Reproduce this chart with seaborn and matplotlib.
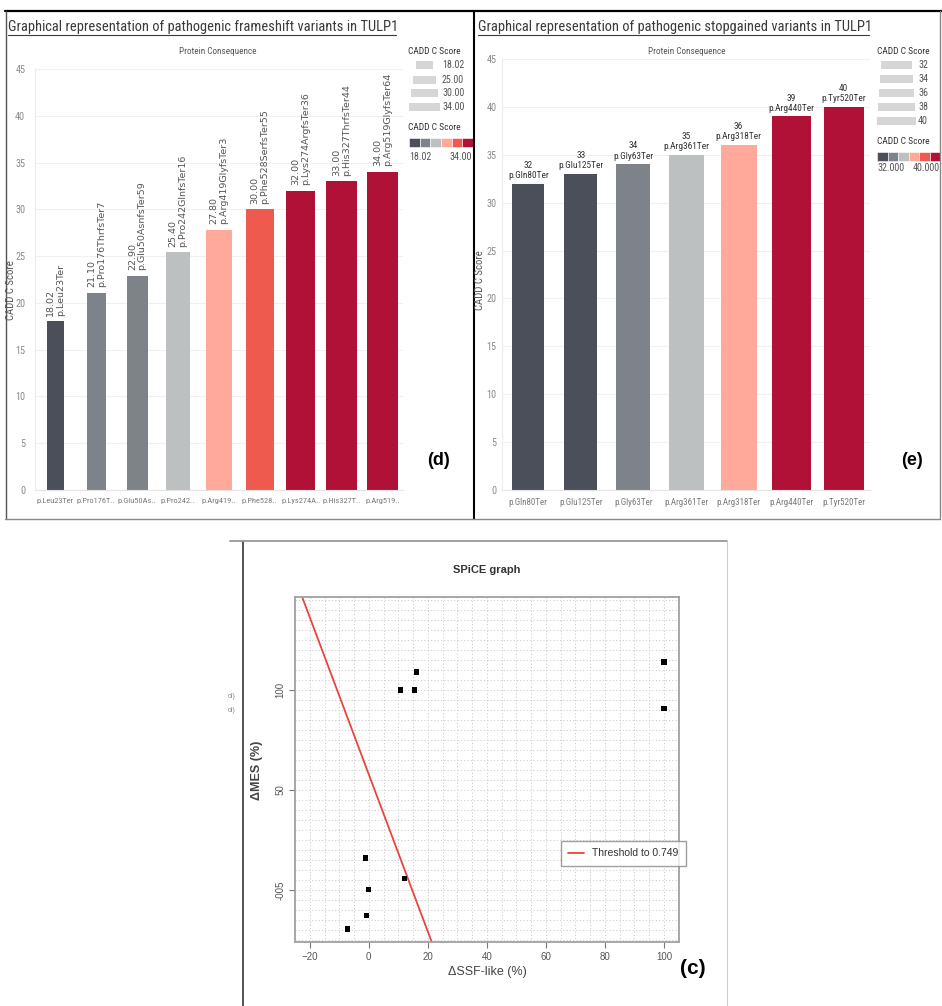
import numpy as np
import pandas as pd
import matplotlib
matplotlib.use("Agg")
import matplotlib.pyplot as plt
from matplotlib.lines import Line2D
from matplotlib.patches import Rectangle
from matplotlib import font_manager as fm
import seaborn as sns

# ---- data ----
fs_variants = ['p.Leu23Ter', 'p.Pro176ThrfsTer7', 'p.Glu50AsnfsTer59', 'p.Pro242GlnfsTer16',
               'p.Arg419GlyfsTer3', 'p.Phe528SerfsTer55', 'p.Lys274ArgfsTer36',
               'p.His327ThrfsTer44', 'p.Arg519GlyfsTer64']
fs_ticklabels = ['p.Leu23Ter', 'p.Pro176T..', 'p.Glu50As..', 'p.Pro242..', 'p.Arg419..',
                 'p.Phe528..', 'p.Lys274A..', 'p.His327T..', 'p.Arg519..']
fs_cadd = [18.02, 21.10, 22.90, 25.40, 27.80, 30.00, 32.00, 33.00, 34.00]
fs_size_legend = [18.02, 25.00, 30.00, 34.00]

sg_variants = ['p.Gln80Ter', 'p.Glu125Ter', 'p.Gly63Ter', 'p.Arg361Ter',
               'p.Arg318Ter', 'p.Arg440Ter', 'p.Tyr520Ter']
sg_cadd = [32, 33, 34, 35, 36, 39, 40]
sg_size_legend = [32, 34, 36, 38, 40]

spice_ssf = [10.8, 15.4, 16.2, 100, 100, -1.2, 12.0, 0.0, -0.9, -7.2]
spice_mes = [100, 100, 109, 114, 90.6, 16, 5.8, 0.3, -12.8, -19.5]
threshold_intercept = 57.8
threshold_slope = -3.93
spice_yticks = [0, 50, 100]
spice_yticklabels = ['-005', '50', '100']

# ---- styles ----
fs_colors = ['#4a4f5a', '#7e8389', '#7e8389', '#bdc0c1', '#fea999', '#ee5a4e',
             '#b01237', '#b01237', '#b01237']
sg_colors = ['#4a4f5a', '#4a4f5a', '#7e8389', '#bdc0c1', '#fea999', '#b01237', '#b01237']
strip_colors = ['#4a4f5a', '#7e8389', '#bdc0c1', '#fea999', '#ee5a4e', '#b01237']

sns.set_theme(style="white")


def pick_narrow():
    # Tableau uses a mildly condensed face; prefer semi-condensed ones
    entries = fm.fontManager.ttflist
    prefs = ['Noto Sans SemiCondensed', 'Liberation Sans Narrow', 'Open Sans SemiCondensed',
             'DejaVu Sans Condensed', 'Roboto Condensed', 'Noto Sans Condensed',
             'Open Sans Condensed']
    names = {f.name for f in entries}
    for p in prefs:
        if p in names:
            return p, 'normal'
    regular = [f for f in entries
               if f.weight in (400, 'normal', 'regular') and f.style == 'normal']
    for key in ['semicondensed', 'narrow', 'condensed']:
        for f in regular:
            fn = f.fname.lower()
            if key in fn and 'extra' not in fn and 'ultra' not in fn:
                return f.name, f.stretch
    return 'Roboto', 'normal'


NARROW, NARROW_STRETCH = pick_narrow()
ARIAL = 'Liberation Sans'
plt.rcParams['font.family'] = [NARROW, 'DejaVu Sans']
plt.rcParams['font.stretch'] = NARROW_STRETCH

W, H = 942, 1006
fig = plt.figure(figsize=(W / 100, H / 100), dpi=100)
fig.patch.set_facecolor('white')
fig.canvas.draw()
rend = fig.canvas.get_renderer()


def fit(s, target_px, **kw):
    t = fig.text(0, 0, s, fontsize=10, **kw)
    w = t.get_window_extent(rend).width
    t.remove()
    return 10 * target_px / w


tick_fs = fit('p.Leu23Ter', 37)
sg_tick_fs = fit('p.Arg440Ter', 44)
ytick_fs = fit('45', 10)
lab_fs = fit('p.Arg440Ter', 46)
leg_title_fs = fit('CADD C Score', 52)
leg_lab_fs = fit('18.02', 22)
cons_fs = fit('Protein Consequence', 76)
ylab_fs = fit('CADD C Score', 60)


def px_axes(x0, y0, x1, y1):
    return fig.add_axes([x0 / W, 1 - y1 / H, (x1 - x0) / W, (y1 - y0) / H])


def ftext(x, y, s, **kw):
    return fig.text(x / W, 1 - y / H, s, **kw)


def fline(xs, ys, **kw):
    fig.add_artist(Line2D([x / W for x in xs], [1 - y / H for y in ys], **kw))


def frect(x, y, w, h, **kw):
    fig.add_artist(Rectangle((x / W, 1 - (y + h) / H), w / W, h / H,
                             transform=fig.transFigure, **kw))


def cadd_bars(ax, names, scores, colors, ticklabels, px_per_score, slot_px, xfs):
    df = pd.DataFrame({'variant': names, 'cadd': scores})
    sns.barplot(data=df, x='variant', y='cadd', hue='variant', palette=colors,
                saturation=1, legend=False, ax=ax)
    # Tableau size encoding: bar width grows with the score
    for bar, s in zip(ax.patches, scores):
        cx = bar.get_x() + bar.get_width() / 2
        w = s * px_per_score / slot_px
        bar.set_x(cx - w / 2)
        bar.set_width(w)
        bar.set_edgecolor('none')
    ax.set_xlim(-0.5, len(names) - 0.5)
    ax.set_ylim(0, 45)
    ax.set_yticks(range(0, 46, 5))
    ax.set_xticks(range(len(names)))
    ax.set_xticklabels(ticklabels)
    ax.tick_params(axis='x', length=0, pad=6, labelsize=xfs, labelcolor='#7a7a7a')
    ax.yaxis.grid(True, color='#f0f0f0', lw=0.8)
    ax.set_axisbelow(True)
    ax.set_xlabel('')
    ax.set_ylabel('')
    for sp in ['top', 'right']:
        ax.spines[sp].set_visible(False)
    ax.spines['left'].set_color('#ececec')
    ax.spines['bottom'].set_color('#e4e4e4')
    ax.spines['left'].set_linewidth(0.8)
    ax.spines['bottom'].set_linewidth(0.8)


# ---- (d) frameshift panel ----
ax1 = px_axes(35, 69, 403, 490)
cadd_bars(ax1, fs_variants, fs_cadd, fs_colors, fs_ticklabels, 0.92, 368 / 9, tick_fs)
ax1.tick_params(axis='y', length=0, pad=7, labelsize=ytick_fs, labelcolor='#8a8a8a')
for i, (n, s) in enumerate(zip(fs_variants, fs_cadd)):
    ax1.text(i, s + 0.6, f'{s:.2f}\n{n}', rotation=90, ha='center', va='bottom',
             multialignment='left', fontsize=6.8, color='#555555',
             family='DejaVu Sans', stretch='normal', linespacing=1.1)

# ---- (e) stopgained panel ----
ax2 = px_axes(502, 59, 870, 490)
cadd_bars(ax2, sg_variants, sg_cadd, sg_colors, sg_variants, 1.0, 368 / 7, sg_tick_fs)
ax2.tick_params(axis='y', length=0, pad=4, labelsize=ytick_fs, labelcolor='#8a8a8a')
for i, (n, s) in enumerate(zip(sg_variants, sg_cadd)):
    ax2.text(i, s + 0.4, f'{s:g}\n{n}', ha='center', va='bottom', fontsize=lab_fs,
             color='#333333', linespacing=1.15)

# titles (underlined)
titles = [(8, 27, 388, 'Graphical representation of pathogenic frameshift variants in TULP1'),
          (478, 27, 391, 'Graphical representation of pathogenic stopgained variants in TULP1')]
for x, y, target, s in titles:
    t = ftext(x, y, s, fontsize=11, color='#3a3a3a', ha='left', va='center')
    wpx = t.get_window_extent(rend).width
    t.set_fontsize(11 * target / wpx)
    fline([x, x + target], [y + 8, y + 8], color='#3a3a3a', lw=0.8)

ftext(218, 51, 'Protein Consequence', fontsize=cons_fs, color='#555555', ha='center', va='center')
ftext(687, 51, 'Protein Consequence', fontsize=cons_fs, color='#555555', ha='center', va='center')
ftext(11, 290, 'CADD C Score', fontsize=ylab_fs, color='#555555', rotation=90, ha='center', va='center')
ftext(480, 280, 'CADD C Score', fontsize=ylab_fs, color='#555555', rotation=90, ha='center', va='center')

# size legends
ftext(408, 52, 'CADD C Score', fontsize=leg_title_fs, color='#333333', ha='left', va='center')
for yc, v in zip([65, 80, 93, 107], fs_size_legend):
    w = v * 0.91
    frect(424.5 - w / 2, yc - 4, w, 8, facecolor='#d6d6d6', edgecolor='none')
    ftext(442, yc, f'{v:.2f}', fontsize=leg_lab_fs, color='#555555', ha='left', va='center')
ftext(877, 52, 'CADD C Score', fontsize=leg_title_fs, color='#333333', ha='left', va='center')
for yc, v in zip([65, 79, 93, 107, 121], sg_size_legend):
    w = v * 0.98
    frect(896.5 - w / 2, yc - 4, w, 8, facecolor='#d6d6d6', edgecolor='none')
    ftext(918, yc, f'{v:g}', fontsize=leg_lab_fs, color='#555555', ha='left', va='center')

# colour legends
ftext(408, 128, 'CADD C Score', fontsize=leg_title_fs, color='#333333', ha='left', va='center')
seg = 64 / len(strip_colors)
for k, c in enumerate(strip_colors):
    frect(409 + k * seg, 138, seg, 9, facecolor=c, edgecolor='white', lw=0.4)
ftext(409, 157, f'{min(fs_cadd):.2f}', fontsize=leg_lab_fs, color='#555555', ha='left', va='center')
ftext(472, 157, f'{max(fs_cadd):.2f}', fontsize=leg_lab_fs, color='#555555', ha='right', va='center')

ftext(877, 141, 'CADD C Score', fontsize=leg_title_fs, color='#333333', ha='left', va='center')
seg = 63 / len(strip_colors)
for k, c in enumerate(strip_colors):
    frect(877 + k * seg, 152, seg, 9, facecolor=c, edgecolor='white', lw=0.4)
ftext(877, 168, f'{min(sg_cadd):.3f}', fontsize=leg_lab_fs, color='#555555', ha='left', va='center')
ftext(940, 168, f'{max(sg_cadd):.3f}', fontsize=leg_lab_fs, color='#555555', ha='right', va='center')

ftext(438, 460, '(d)', fontsize=13, fontweight='bold', color='black', ha='center', va='center', family=ARIAL)
ftext(912, 460, '(e)', fontsize=13, fontweight='bold', color='black', ha='center', va='center', family=ARIAL)

# panel frames
fline([5, 942], [11, 11], color='black', lw=1.6)
fline([6, 6], [11, 519], color='#555555', lw=1.0)
fline([474, 474], [11, 519], color='black', lw=1.5)
fline([940, 940], [11, 519], color='#888888', lw=1.0)
fline([5, 940], [519, 519], color='#888888', lw=1.0)

# ---- (c) SPiCE panel ----
ax3 = px_axes(295, 597, 679, 942)
ax3.set_xlim(-24.7, 105.1)
ax3.set_ylim(-26, 146.5)
ax3.set_xticks(np.arange(-25, 106, 5), minor=True)
ax3.set_yticks(np.arange(-25, 146, 5), minor=True)
ax3.grid(which='both', ls=(0, (1.2, 2.2)), color='#cdcdcd', lw=0.7)
ax3.set_axisbelow(True)
ax3.axline((0, threshold_intercept), slope=threshold_slope, color='#e8453c', lw=1.3,
           label='Threshold to 0.749', zorder=2)
sns.scatterplot(x=spice_ssf, y=spice_mes, marker='s', s=14, color='black',
                edgecolor='none', ax=ax3, zorder=3)
ax3.set_xticks(range(-20, 101, 20))
ax3.set_yticks(spice_yticks)
ax3.set_yticklabels(spice_yticklabels, rotation=90, va='center')
ax3.tick_params(which='major', length=4, width=0.8, color='#777777', labelsize=7,
                labelcolor='#555555', pad=3, direction='out', left=True, bottom=True)
ax3.tick_params(which='minor', length=0)
for lab in ax3.get_xticklabels() + ax3.get_yticklabels():
    lab.set_family(ARIAL)
    lab.set_stretch('normal')
for sp in ax3.spines.values():
    sp.set_color('#a0a0a0')
    sp.set_linewidth(1.3)
leg = ax3.legend(loc='center left', bbox_to_anchor=(561 / W, 1 - 853.5 / H),
                 bbox_transform=fig.transFigure, frameon=True, fancybox=False,
                 edgecolor='#888888', handlelength=1.5, handletextpad=0.8,
                 borderpad=0.7, borderaxespad=0,
                 prop={'family': ARIAL, 'size': 7.5, 'stretch': 'normal'})
leg.get_frame().set_linewidth(1.0)
for t in leg.get_texts():
    t.set_color('#333333')

ftext(487, 570, 'SPiCE graph', fontsize=8, fontweight='bold', color='#333333',
      ha='center', va='center', family=ARIAL, stretch='normal')
ftext(487, 972, '\u0394SSF-like (%)', fontsize=9, color='#444444', ha='center',
      va='center', family=ARIAL, stretch='normal')
ftext(257, 770, '\u0394MES (%)', fontsize=9, fontweight='bold', color='#444444',
      rotation=90, ha='center', va='center', family=ARIAL, stretch='normal')
ftext(693, 968, '(c)', fontsize=15, fontweight='bold', color='black', ha='center',
      va='center', family=ARIAL, stretch='normal')
ftext(228, 697, 'ol)', fontsize=5, color='#888888', ha='left', va='center', family=ARIAL)
ftext(228, 710, 'ol)', fontsize=5, color='#888888', ha='left', va='center', family=ARIAL)

fline([243, 243], [541, 1006], color='#444444', lw=1.3)
fline([230, 727], [541, 541], color='#999999', lw=1.3)
fline([727, 727], [541, 1006], color='#cccccc', lw=0.8)

fig.savefig('out.png', dpi=100, facecolor='white')
